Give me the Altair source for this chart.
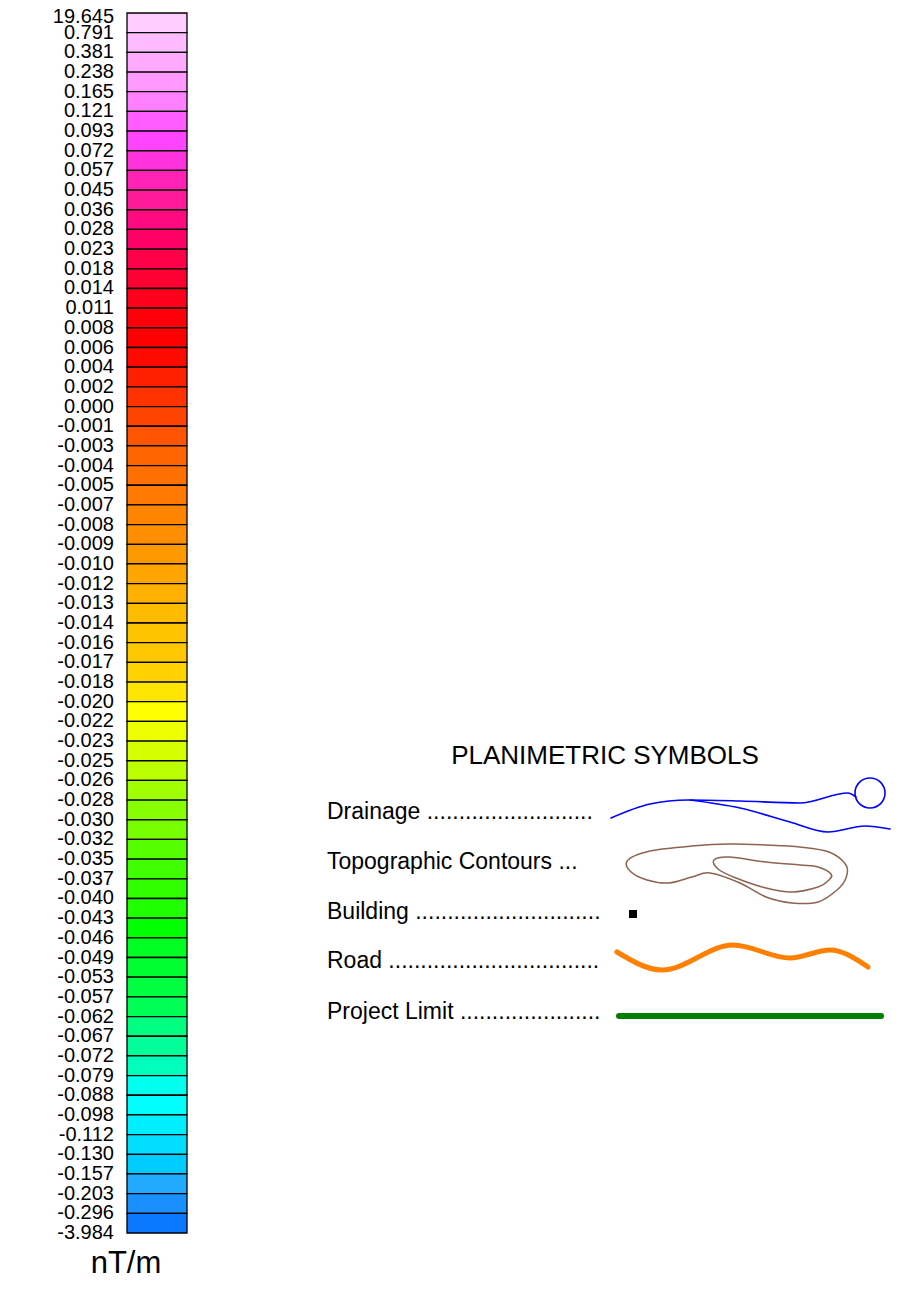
import altair as alt
import pandas as pd

# ---- colour bar data ----
bar_labels = ["19.645", "0.791", "0.381", "0.238", "0.165", "0.121", "0.093", "0.072",
              "0.057", "0.045", "0.036", "0.028", "0.023", "0.018", "0.014", "0.011",
              "0.008", "0.006", "0.004", "0.002", "0.000", "-0.001", "-0.003", "-0.004",
              "-0.005", "-0.007", "-0.008", "-0.009", "-0.010", "-0.012", "-0.013", "-0.014",
              "-0.016", "-0.017", "-0.018", "-0.020", "-0.022", "-0.023", "-0.025", "-0.026",
              "-0.028", "-0.030", "-0.032", "-0.035", "-0.037", "-0.040", "-0.043", "-0.046",
              "-0.049", "-0.053", "-0.057", "-0.062", "-0.067", "-0.072", "-0.079", "-0.088",
              "-0.098", "-0.112", "-0.130", "-0.157", "-0.203", "-0.296", "-3.984"]

bar_colors = ["#FFCCFF", "#FFBBFF", "#FFAAFF", "#FF99FF", "#FF80FF", "#FF5CFF", "#FF44FF", "#FF33DD",
              "#FF22B4", "#FF1A99", "#FF0A80", "#FF0066", "#FF0048", "#FF0032", "#FF001C", "#FF000A",
              "#FF0000", "#FF0A00", "#FF2000", "#FF3300", "#FF4400", "#FF5500", "#FF6600", "#FF7000",
              "#FF7A00", "#FF8400", "#FF8E00", "#FF9900", "#FFA500", "#FFB000", "#FFBB00", "#FFC400",
              "#FFC800", "#FFD200", "#FFE500", "#FFFF00", "#EEFF00", "#D4FF00", "#BBFF00", "#A0FF00",
              "#88FF00", "#77FF00", "#55FF00", "#40FF00", "#30FF00", "#20FF00", "#00FF00", "#00FF22",
              "#00FF30", "#00FF40", "#00FF55", "#00FF80", "#00FF99", "#00FFBB", "#00FFEE", "#00FFFF",
              "#00EEFF", "#00DDFF", "#00CCFF", "#22AAFF", "#1A90FF", "#0A78FF"]

unit_label = "nT/m"

# ---- planimetric legend data ----
legend_title = "PLANIMETRIC SYMBOLS"
legend_items = ["Drainage " + "." * 26,
                "Topographic Contours ...",
                "Building " + "." * 29,
                "Road " + "." * 33,
                "Project Limit " + "." * 22]
legend_rows = [812, 862, 912, 961, 1012]

drain_upper = [(611, 818), (650, 804), (688, 800), (740, 801), (800, 803),
               (848, 793), (856, 797)]
drain_lower = [(690, 800), (740, 808), (790, 822), (828, 832), (865, 826), (890, 829)]
drain_pond = [(870, 793)]

contour_outer = [(628, 860), (650, 851), (692, 846), (730, 844), (766, 845), (800, 847),
                 (829, 852), (846, 865), (846, 878), (837, 890), (818, 902), (792, 903),
                 (766, 897), (740, 883), (710, 873), (692, 877), (669, 883), (647, 880),
                 (630, 871)]
contour_inner = [(714, 860), (729, 857), (766, 862), (800, 865), (818, 867), (831, 874),
                 (829, 880), (818, 887), (792, 892), (766, 888), (736, 878), (718, 869)]

building = [(633, 914)]

road = [(617, 952), (662, 970), (733, 945), (790, 958), (830, 950), (868, 967)]

project_limit = [(619, 1016), (881, 1016)]

FONT = "Liberation Sans"
TOP = 4  # top padding of the svg

# ---- frames ----
bars = pd.DataFrame({"i": list(range(len(bar_colors))),
                     "i2": [k + 1 for k in range(len(bar_colors))],
                     "x0": 0, "x1": 1, "col": bar_colors})
labs = pd.DataFrame({"i": list(range(len(bar_labels))), "x0": 0, "lab": bar_labels})

bx = alt.Scale(domain=[0, 1], range=[119, 179])
by = alt.Scale(domain=[0, len(bar_colors)], range=[5 - TOP, 1225 - TOP])

px = alt.Scale(domain=[8, 903], range=[0, 895])
py = alt.Scale(domain=[8, 1288], range=[-TOP, 1280 - TOP])

rects = alt.Chart(bars).mark_rect(stroke="black", strokeWidth=1.3).encode(
    x=alt.X("x0:Q", scale=bx, axis=None), x2="x1:Q",
    y=alt.Y("i:Q", scale=by, axis=None), y2="i2:Q",
    color=alt.Color("col:N", scale=None))


def label_layer(df, dy):
    return alt.Chart(df).mark_text(align="right", baseline="middle", dx=-13, dy=dy,
                                   font=FONT, fontSize=20, color="black").encode(
        x=alt.X("x0:Q", scale=bx, axis=None),
        y=alt.Y("i:Q", scale=by, axis=None),
        text="lab:N")


labels_top = label_layer(labs.iloc[[0]], 4)
labels_rest = label_layer(labs.iloc[1:], 0)


def path_df(pts, name):
    return pd.DataFrame({"x": [p[0] for p in pts], "y": [p[1] for p in pts],
                         "o": list(range(len(pts))), "s": name})


def line_layer(df, color, width, interp, cap="round"):
    return alt.Chart(df).mark_line(color=color, strokeWidth=width, interpolate=interp,
                                   strokeCap=cap, strokeJoin="round").encode(
        x=alt.X("x:Q", scale=px, axis=None),
        y=alt.Y("y:Q", scale=py, axis=None),
        detail="s:N", order="o:Q")


texts = pd.DataFrame({"x": [605] + [327] * len(legend_items) + [126],
                      "y": [756] + legend_rows + [1264],
                      "t": [legend_title] + legend_items + [unit_label]})

title_t = alt.Chart(texts.iloc[[0]]).mark_text(align="center", baseline="middle", font=FONT,
                                               fontSize=26, color="black").encode(
    x=alt.X("x:Q", scale=px, axis=None), y=alt.Y("y:Q", scale=py, axis=None), text="t:N")
items_t = alt.Chart(texts.iloc[1:-1]).mark_text(align="left", baseline="middle", font=FONT,
                                                fontSize=23, color="black").encode(
    x=alt.X("x:Q", scale=px, axis=None), y=alt.Y("y:Q", scale=py, axis=None), text="t:N")
unit_t = alt.Chart(texts.iloc[[-1]]).mark_text(align="center", baseline="middle", font=FONT,
                                               fontSize=31, color="black").encode(
    x=alt.X("x:Q", scale=px, axis=None), y=alt.Y("y:Q", scale=py, axis=None), text="t:N")

drain = line_layer(pd.concat([path_df(drain_upper, "u"), path_df(drain_lower, "l")]),
                   "#0000FF", 1.6, "monotone")
pond = alt.Chart(path_df(drain_pond, "p")).mark_point(shape="circle", filled=False, size=900,
                                                      color="#0000FF", strokeWidth=1.6,
                                                      opacity=1).encode(
    x=alt.X("x:Q", scale=px, axis=None), y=alt.Y("y:Q", scale=py, axis=None))
contours = line_layer(pd.concat([path_df(contour_outer, "a"), path_df(contour_inner, "b")]),
                      "#8C6450", 1.5, "cardinal-closed")
bld = alt.Chart(path_df(building, "b")).mark_square(size=64, color="black", opacity=1).encode(
    x=alt.X("x:Q", scale=px, axis=None), y=alt.Y("y:Q", scale=py, axis=None))
road_l = line_layer(path_df(road, "r"), "#FF8000", 5, "monotone")
limit_l = line_layer(path_df(project_limit, "pl"), "#008000", 6, "linear")

chart = alt.layer(rects, labels_top, labels_rest, title_t, items_t, unit_t, drain, pond,
                  contours, bld, road_l, limit_l).resolve_scale(
    x="independent", y="independent").properties(
    width=895, height=1280 - TOP,
    padding={"top": TOP, "left": 0, "right": 0, "bottom": 0},
    autosize=alt.AutoSizeParams(type="none")
).configure_view(strokeWidth=0)

chart.save("out.html", embed_options={"renderer": "svg", "actions": False})
